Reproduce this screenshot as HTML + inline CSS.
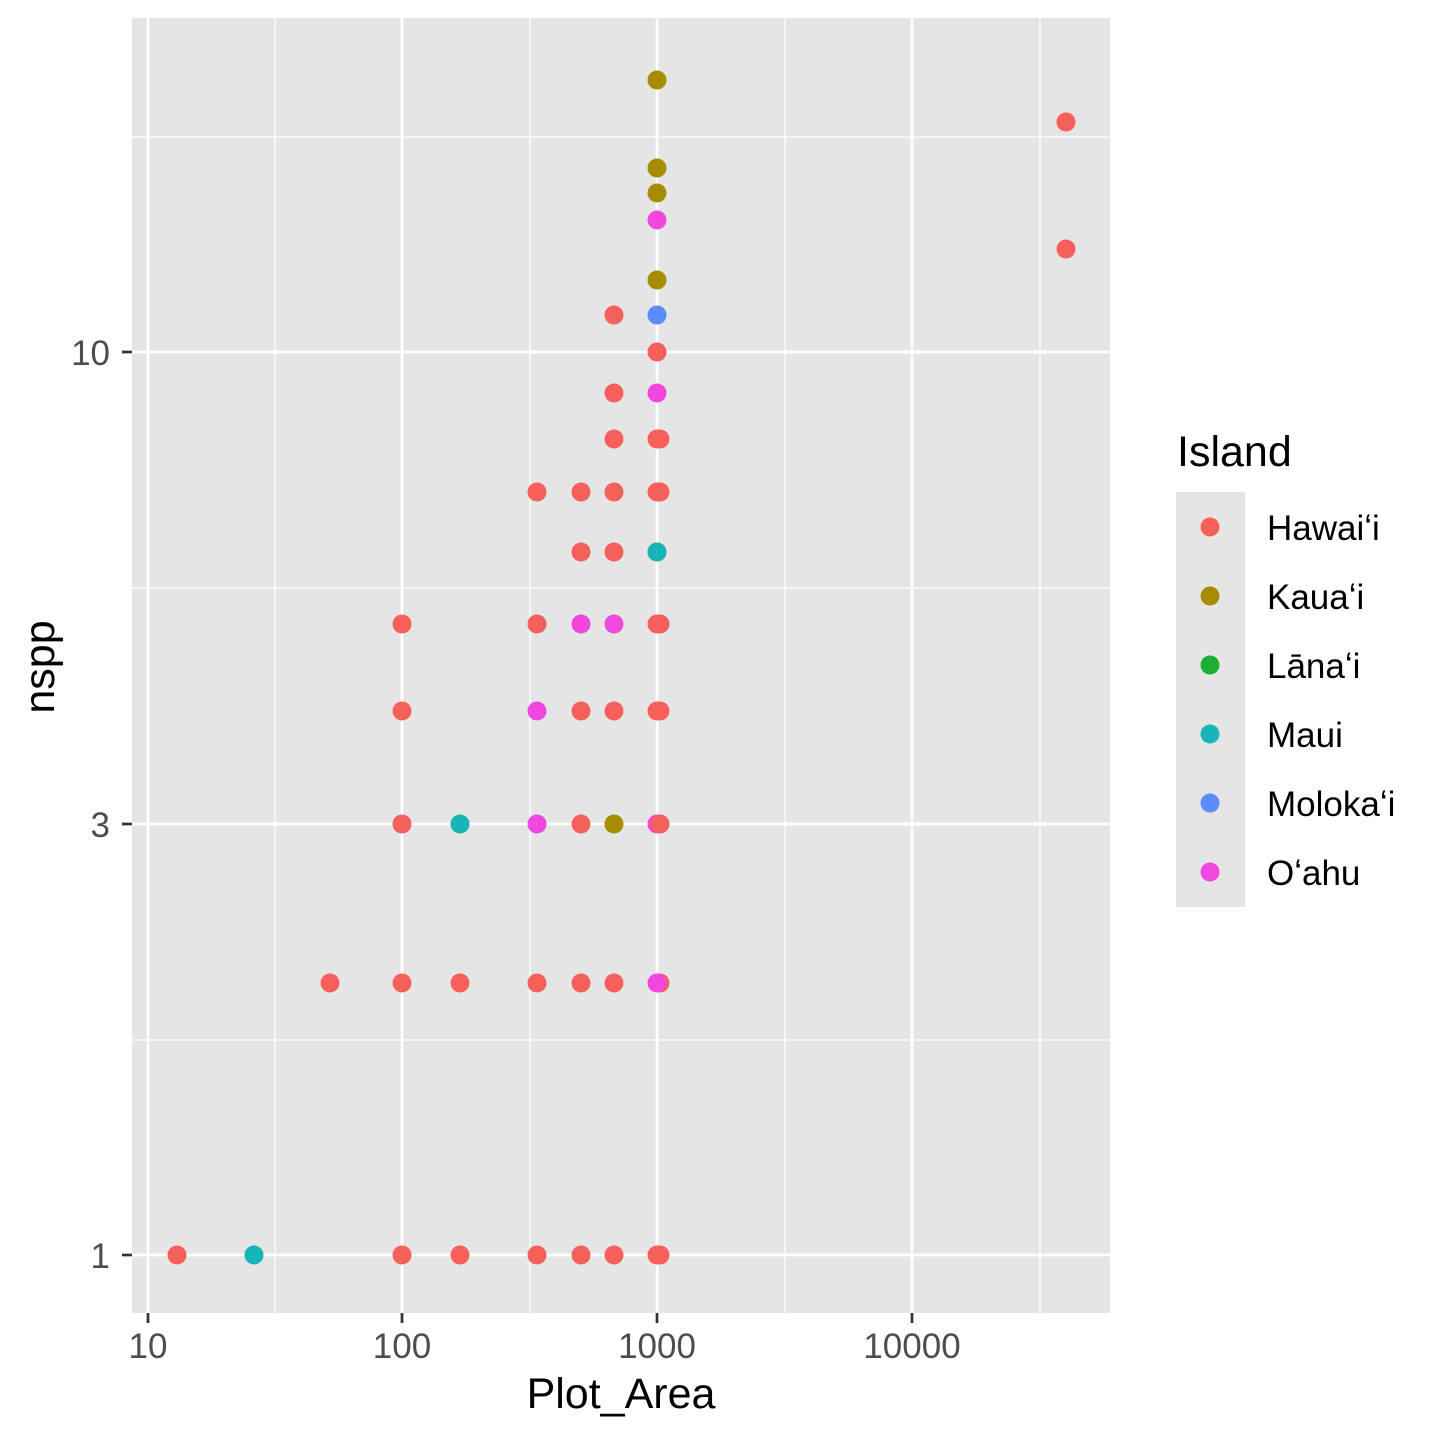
<!DOCTYPE html>
<html><head><meta charset="utf-8"><style>body{margin:0;background:#fff}</style></head><body>
<svg width="1440" height="1440" xmlns="http://www.w3.org/2000/svg" font-family="Liberation Sans, Arial, sans-serif">
<rect width="1440" height="1440" fill="#fff"/>
<rect x="132" y="18" width="978" height="1295" fill="#E5E5E5"/>
<g stroke="#fff" stroke-width="1.3">
<line x1="132" x2="1110" y1="1040" y2="1040"/><line x1="132" x2="1110" y1="588" y2="588"/><line x1="132" x2="1110" y1="137" y2="137"/>
<line y1="18" y2="1313" x1="275" x2="275"/><line y1="18" y2="1313" x1="530" x2="530"/><line y1="18" y2="1313" x1="785" x2="785"/><line y1="18" y2="1313" x1="1040" x2="1040"/>
</g>
<g stroke="#fff" stroke-width="2.7">
<line x1="132" x2="1110" y1="1255" y2="1255"/><line x1="132" x2="1110" y1="824" y2="824"/><line x1="132" x2="1110" y1="352" y2="352"/>
<line y1="18" y2="1313" x1="148" x2="148"/><line y1="18" y2="1313" x1="402" x2="402"/><line y1="18" y2="1313" x1="657" x2="657"/><line y1="18" y2="1313" x1="912" x2="912"/>
</g>
<g stroke="#333" stroke-width="2.7">
<line x1="122" x2="132" y1="1255" y2="1255"/><line x1="122" x2="132" y1="824" y2="824"/><line x1="122" x2="132" y1="352" y2="352"/>
<line y1="1313" y2="1323" x1="148" x2="148"/><line y1="1313" y2="1323" x1="402" x2="402"/><line y1="1313" y2="1323" x1="657" x2="657"/><line y1="1313" y2="1323" x1="912" x2="912"/>
</g>
<g fill="#4D4D4D" font-size="35" text-anchor="end">
<text x="110" y="1268">1</text><text x="110" y="837">3</text><text x="110" y="365">10</text>
</g>
<g fill="#4D4D4D" font-size="35" text-anchor="middle">
<text x="148" y="1358">10</text><text x="402" y="1358">100</text><text x="657" y="1358">1000</text><text x="912" y="1358">10000</text>
</g>
<text x="621" y="1408" font-size="43" text-anchor="middle">Plot_Area</text>
<text transform="translate(54,667) rotate(-90)" font-size="43" text-anchor="middle">nspp</text>
<g fill="#F5605A">
<circle cx="177" cy="1255" r="9.5"/><circle cx="402" cy="1255" r="9.5"/><circle cx="460" cy="1255" r="9.5"/><circle cx="537" cy="1255" r="9.5"/><circle cx="581" cy="1255" r="9.5"/><circle cx="614" cy="1255" r="9.5"/><circle cx="657" cy="1255" r="9.5"/><circle cx="660" cy="1255" r="9.5"/>
<circle cx="330" cy="983" r="9.5"/><circle cx="402" cy="983" r="9.5"/><circle cx="460" cy="983" r="9.5"/><circle cx="537" cy="983" r="9.5"/><circle cx="581" cy="983" r="9.5"/><circle cx="614" cy="983" r="9.5"/><circle cx="660" cy="983" r="9.5"/>
<circle cx="402" cy="824" r="9.5"/><circle cx="581" cy="824" r="9.5"/>
<circle cx="402" cy="711" r="9.5"/><circle cx="581" cy="711" r="9.5"/><circle cx="614" cy="711" r="9.5"/><circle cx="657" cy="711" r="9.5"/><circle cx="660" cy="711" r="9.5"/>
<circle cx="402" cy="624" r="9.5"/><circle cx="537" cy="624" r="9.5"/><circle cx="657" cy="624" r="9.5"/><circle cx="660" cy="624" r="9.5"/>
<circle cx="581" cy="552" r="9.5"/><circle cx="614" cy="552" r="9.5"/><circle cx="657" cy="552" r="9.5"/>
<circle cx="537" cy="492" r="9.5"/><circle cx="581" cy="492" r="9.5"/><circle cx="614" cy="492" r="9.5"/><circle cx="657" cy="492" r="9.5"/><circle cx="660" cy="492" r="9.5"/>
<circle cx="614" cy="439" r="9.5"/><circle cx="657" cy="439" r="9.5"/><circle cx="660" cy="439" r="9.5"/>
<circle cx="614" cy="393" r="9.5"/><circle cx="657" cy="352" r="9.5"/><circle cx="614" cy="315" r="9.5"/>
<circle cx="1066" cy="122" r="9.5"/><circle cx="1066" cy="249" r="9.5"/>
</g>
<g fill="#17B5B8"><circle cx="254" cy="1255" r="9.5"/><circle cx="460" cy="824" r="9.5"/><circle cx="657" cy="552" r="9.5"/></g>
<g fill="#F048DF"><circle cx="657" cy="983" r="9.5"/><circle cx="537" cy="824" r="9.5"/><circle cx="537" cy="711" r="9.5"/><circle cx="581" cy="624" r="9.5"/><circle cx="614" cy="624" r="9.5"/><circle cx="657" cy="393" r="9.5"/><circle cx="657" cy="220" r="9.5"/><circle cx="657" cy="824" r="9.5"/></g>
<g fill="#F5605A"><circle cx="660" cy="824" r="9.5"/></g>
<g fill="#A88C00"><circle cx="614" cy="824" r="9.5"/><circle cx="657" cy="280" r="9.5"/><circle cx="657" cy="193" r="9.5"/><circle cx="657" cy="168" r="9.5"/><circle cx="657" cy="80" r="9.5"/></g>
<g fill="#5B8CFF"><circle cx="657" cy="315" r="9.5"/></g>
<text x="1177" y="466" font-size="43">Island</text>
<rect x="1176" y="492" width="69" height="415" fill="#E5E5E5"/>
<circle cx="1210" cy="527" r="9.5" fill="#F5605A"/><circle cx="1210" cy="596" r="9.5" fill="#A88C00"/><circle cx="1210" cy="665" r="9.5" fill="#1BB034"/><circle cx="1210" cy="734" r="9.5" fill="#17B5B8"/><circle cx="1210" cy="803" r="9.5" fill="#5B8CFF"/><circle cx="1210" cy="872" r="9.5" fill="#F048DF"/>
<g font-size="35"><text x="1267" y="540">Hawaiʻi</text><text x="1267" y="609">Kauaʻi</text><text x="1267" y="678">Lānaʻi</text><text x="1267" y="747">Maui</text><text x="1267" y="816">Molokaʻi</text><text x="1267" y="885">Oʻahu</text></g>
</svg>
</body></html>
